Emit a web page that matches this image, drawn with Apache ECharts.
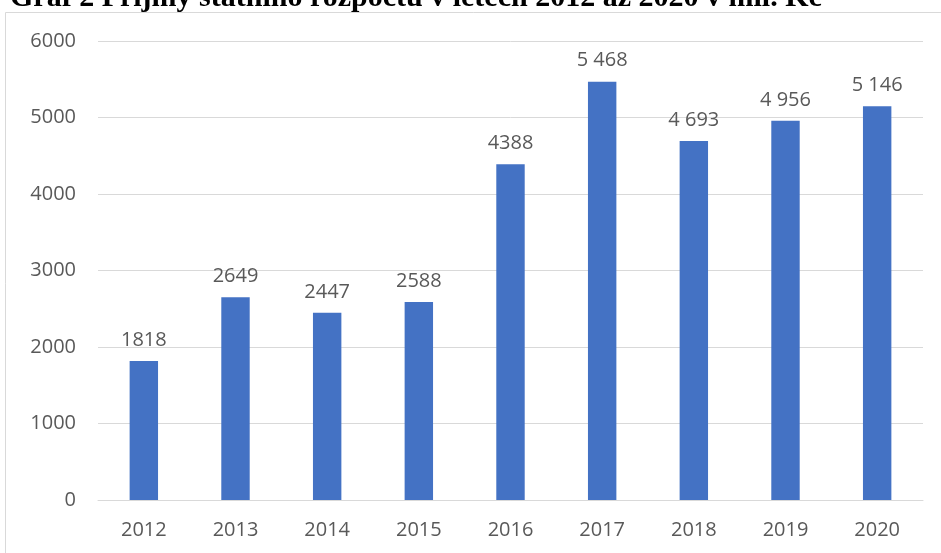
<!DOCTYPE html>
<html><head><meta charset="utf-8">
<script src="https://cdn.jsdelivr.net/npm/echarts@6/dist/echarts.min.js"></script>
<style>html,body{margin:0;padding:0;background:#fff;}#c{width:941px;height:553px;}</style>
</head><body><div id="c"></div>
<script>
var categories = ['2012','2013','2014','2015','2016','2017','2018','2019','2020'];
var values = [1818, 2649, 2447, 2588, 4388, 5468, 4693, 4956, 5146];
var valueLabels = ['1818','2649','2447','2588','4388','5 468','4 693','4 956','5 146'];
var yTicks = [0, 1000, 2000, 3000, 4000, 5000, 6000];
var titleText = 'Graf 2 Příjmy státního rozpočtu v letech 2012 až 2020 v mil. Kč';

var chart = echarts.init(document.getElementById('c'));
chart.setOption({
  animation: false,
  backgroundColor: '#fff',
  title: {
    text: titleText, left: 5, top: -22,
    textStyle: {fontFamily: 'Liberation Serif', fontWeight: 'bold', fontSize: 30, color: '#000'}
  },
  graphic: [{
    type: 'rect', z: -1, shape: {x: 5.5, y: 12.5, width: 960, height: 600},
    style: {fill: 'none', stroke: '#d9d9d9', lineWidth: 1}
  }],
  grid: {left: 98, right: 18, top: 41, bottom: 53},
  xAxis: {
    type: 'category', data: categories,
    axisLine: {lineStyle: {color: '#d9d9d9', width: 1}},
    axisTick: {show: false},
    axisLabel: {color: '#595959', fontSize: 20, fontFamily: 'Open Sans', margin: 20}
  },
  yAxis: {
    type: 'value', min: yTicks[0], max: yTicks[yTicks.length-1], interval: 1000,
    axisLine: {show: false}, axisTick: {show: false},
    splitLine: {lineStyle: {color: '#d9d9d9', width: 1}},
    axisLabel: {color: '#595959', fontSize: 20, fontFamily: 'Open Sans', margin: 22,
      formatter: function(v){ return String(v); }}
  },
  series: [{
    type: 'bar', data: values, barWidth: '31%',
    itemStyle: {color: '#4472C4'},
    label: {
      show: true, position: 'top', distance: 11, color: '#595959', fontSize: 20, fontFamily: 'Open Sans',
      formatter: function(p){ return valueLabels[p.dataIndex]; }
    }
  }]
});
</script></body></html>
